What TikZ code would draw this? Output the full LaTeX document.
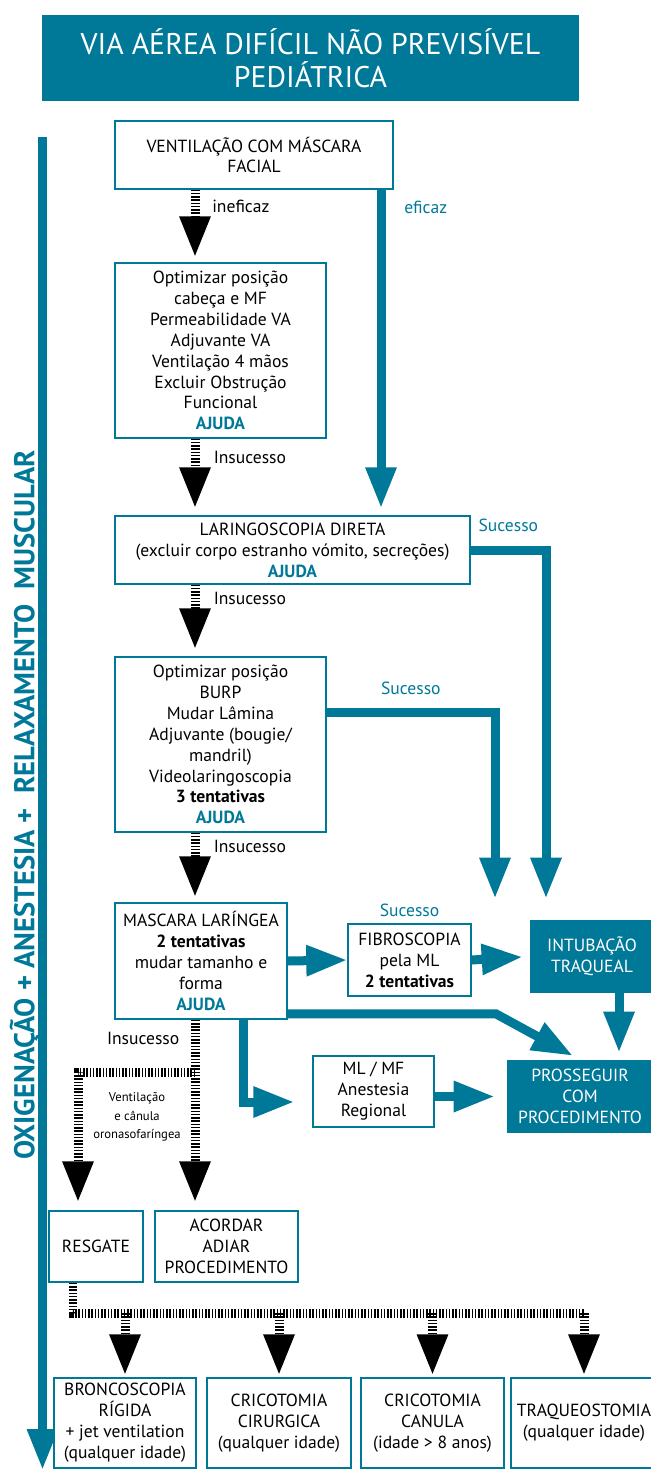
\documentclass[tikz,border=0pt]{standalone}
\usepackage{fontspec}
\setmainfont{PT Sans}
\usepackage{tikz}
\usetikzlibrary{arrows.meta}
\usetikzlibrary{positioning}
\tikzset{>={Triangle[width=0.58cm,length=0.82cm]}}
\definecolor{mainteal}{HTML}{007898}
\newcommand{\ajuda}{\textcolor{mainteal}{\textbf{AJUDA}}}
\tikzset{
  box/.style={draw=mainteal, line width=0.03cm, fill=white, align=center, inner sep=1pt, font=\fontsize{10}{11.9}\selectfont},
  solidbox/.style={fill=mainteal, text=white, align=center, inner sep=1pt, font=\fontsize{10}{11.9}\selectfont},
  hatch/.style={line width=0.18cm, dash pattern=on 0.03cm off 0.035cm},
  flow/.style={mainteal, line width=0.18cm},
  note/.style={font=\fontsize{10}{12}\selectfont, inner sep=1pt},
  suc/.style={note, text=mainteal},
}

\begin{document}
\begin{tikzpicture}[x=0.02cm, y=-0.02cm]
\useasboundingbox (0,0) rectangle (651,1470);

% title
\node[solidbox, minimum width=10.74cm, minimum height=1.74cm, font=\fontsize{17}{18.7}\selectfont] (title) at (310.5,58) {VIA AÉREA DIFÍCIL NÃO PREVISÍVEL\\PEDIÁTRICA};

% left bar
\coordinate (bartop) at (42.5,137);
\coordinate (barend) at (42.5,1470);
\draw[flow, ->] (bartop) -- (barend);
\node[rotate=90, text=mainteal, font=\fontsize{16.3}{18}\selectfont\bfseries] (protocol) at (25,805) {OXIGENAÇÃO + ANESTESIA +\ \ RELAXAMENTO\ \ MUSCULAR};

% boxes
\node[box, minimum width=5.56cm, minimum height=1.36cm] (vent) at (254,155) {VENTILAÇÃO COM MÁSCARA\\FACIAL};
\node[box, minimum width=4.22cm, minimum height=3.5cm] (opt1) at (220.5,350.5) {Optimizar posição\\cabeça e MF\\Permeabilidade VA\\Adjuvante VA\\Ventilação 4 mãos\\Excluir Obstrução\\Funcional\\\ajuda};
\node[box, minimum width=7.1cm, minimum height=1.36cm] (lar) at (292.5,550) {LARINGOSCOPIA DIRETA\\(excluir corpo estranho vómito, secreções)\\\ajuda};
\node[box, minimum width=4.22cm, minimum height=3.5cm] (opt2) at (220.5,744.5) {Optimizar posição\\BURP\\Mudar Lâmina\\Adjuvante (bougie/\\mandril)\\Videolaringoscopia\\\textbf{3 tentativas}\\\ajuda};
\node[box, minimum width=3.44cm, minimum height=2.32cm] (ml) at (201,961) {MASCARA LARÍNGEA\\\textbf{2 tentativas}\\mudar tamanho e\\forma\\\ajuda};
\node[box, minimum width=2.46cm, minimum height=1.44cm] (fib) at (409.5,960) {FIBROSCOPIA\\pela ML\\\textbf{2 tentativas}};
\node[solidbox, minimum width=2.48cm, minimum height=1.46cm] (int) at (592,956.5) {INTUBAÇÃO\\TRAQUEAL};
\node[box, minimum width=2.42cm, minimum height=1.42cm] (mlmf) at (373.5,1091.5) {ML / MF\\Anestesia\\Regional};
\node[solidbox, minimum width=2.92cm, minimum height=1.46cm] (pros) at (580,1096.5) {PROSSEGUIR\\COM\\PROCEDIMENTO};
\node[box, minimum width=1.88cm, minimum height=1.42cm] (resg) at (96,1246.5) {RESGATE};
\node[box, minimum width=2.86cm, minimum height=1.42cm] (acor) at (226.5,1246.5) {ACORDAR\\ADIAR\\PROCEDIMENTO};
\node[box, minimum width=2.84cm, minimum height=1.8cm] (bronc) at (125,1423) {BRONCOSCOPIA\\RÍGIDA\\+ jet ventilation\\(qualquer idade)};
\node[box, minimum width=2.88cm, minimum height=1.8cm] (circ1) at (279,1423) {CRICOTOMIA\\CIRURGICA\\(qualquer idade)};
\node[box, minimum width=2.86cm, minimum height=1.8cm] (circ2) at (432.5,1423) {CRICOTOMIA\\CANULA\\(idade > 8 anos)};
\node[box, minimum width=2.92cm, minimum height=1.8cm] (traq) at (584,1423) {TRAQUEOSTOMIA\\(qualquer idade)};

% lanes
\coordinate (lane) at (195,0);
\coordinate (eflane) at (381,0);
\coordinate (suclar) at (546,0);
\coordinate (sucopt) at (495,0);
\coordinate (intlane) at (619,0);
\coordinate (mllane) at (243,0);
\coordinate (resgin) at (78,0);
\coordinate (resgout) at (73,0);
\coordinate (split) at (195,1072);
\coordinate (bottomrow) at (0,1313);

% failure path
\draw[hatch, ->, shorten >=0.1cm] (vent.south -| lane) -- (opt1.north -| lane) node[note, pos=0.23, right=0.22cm] {ineficaz};
\draw[hatch, ->, shorten >=0.14cm] (opt1.south -| lane) -- (lar.north -| lane) node[note, pos=0.24, right=0.25cm] {Insucesso};
\draw[hatch, ->, shorten >=0.14cm] (lar.south -| lane) -- (opt2.north -| lane) node[note, pos=0.19, right=0.25cm] {Insucesso};
\draw[hatch, ->, shorten >=0.1cm] (opt2.south -| lane) -- (ml.north -| lane) node[note, pos=0.2, right=0.25cm] {Insucesso};

% success path
\draw[flow, ->, shorten >=0.14cm] (vent.south -| eflane) -- (lar.north -| eflane) node[note, pos=0.055, right=0.34cm] {eficaz};
\draw[flow, ->, shorten >=0.42cm] (lar.east) -| (int.north -| suclar) node[note, pos=0.25, above=0.25cm] {Sucesso};
\draw[flow, ->, shorten >=0.42cm] ([yshift=0.65cm]opt2.east) -| (int.north -| sucopt) node[note, pos=0.25, above=0.22cm] {Sucesso};
\draw[flow, ->] (ml.east) -- (fib.west);
\node[suc, above=0.08cm of fib] (sucfib) {Sucesso};
\draw[flow, ->, shorten >=0.14cm] (fib.east) -- (int.west);
\draw[flow, ->, shorten >=0.14cm] (int.south -| intlane) -- (pros.north -| intlane);
\draw[flow, ->, shorten >=0.16cm] ([yshift=0.12cm]ml.south east) -- ++(208,0) -- (pros.north);
\draw[flow, ->, shorten >=0.36cm] (ml.south -| mllane) |- ([yshift=-0.21cm]mlmf.west);
\draw[flow, ->, shorten >=0.24cm] (mlmf.east |- pros.west) -- (pros.west);

% rescue
\draw[hatch, ->, shorten >=0.16cm] (ml.south -| lane) -- (acor.north -| lane) node[note, pos=0.1, left=0.19cm] {Insucesso};
\draw[hatch, ->, shorten >=0.16cm] (split) -| (resg.north -| resgin);
\node[font=\fontsize{7.2}{10.5}\selectfont, align=center] (ventcan) at (137,1117) {Ventilação\\e cânula\\oronasofaríngea};
\draw[hatch] (resg.south -| resgout) |- (traq.north |- bottomrow);
\foreach \b in {bronc,circ1,circ2,traq}
  \draw[hatch, ->, shorten >=0.04cm] (\b.north |- bottomrow) -- (\b.north);
\end{tikzpicture}
\end{document}
